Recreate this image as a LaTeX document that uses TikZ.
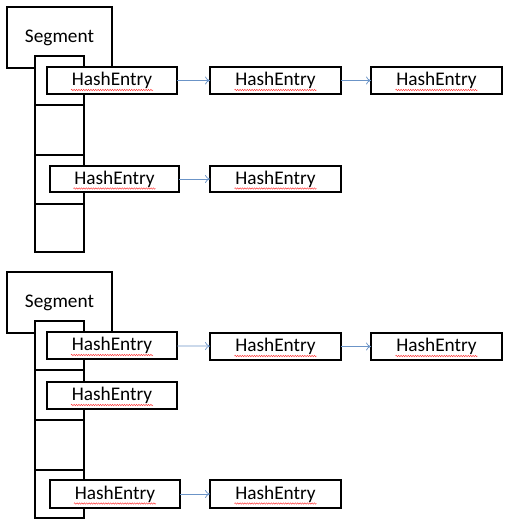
\documentclass[tikz,border=0pt]{standalone}
\usepackage{fontspec}
\setmainfont{Carlito}
\usetikzlibrary{decorations.pathmorphing,arrows.meta}
\definecolor{linkblue}{rgb}{0.42,0.58,0.78}
\tikzset{
  box/.style={draw=black,fill=white,line width=2.1pt,inner sep=0pt,outer sep=0pt,
    font=\fontsize{19.3}{22}\selectfont},
  seg/.style={box},
  cell/.style={box},
  entry/.style={box},
  link/.style={draw=linkblue,line width=0.7pt,-{To[length=5pt,width=8pt]}},
  squiggle/.style={draw=red!80,line width=0.45pt,decorate,
    decoration={snake,amplitude=0.7pt,segment length=2.4pt}}
}
\newcommand{\rectnode}[6]{% style, name, x1, y1, x2, y2 (text appended later)
  \node[#1,minimum width={#5-#3},minimum height={#6-#4}] (#2) at ({(#3+#5)/2},{(#4+#6)/2})}
\begin{document}
\begin{tikzpicture}[x=1pt,y=-1pt]
\useasboundingbox (0,0) rectangle (522,527);
% ---------- top diagram ----------
\rectnode{seg}{segA}{7}{7}{112}{68} {Segment};
\rectnode{cell}{a1}{35}{56}{84}{105} {};
\rectnode{cell}{a2}{35}{105}{84}{155} {};
\rectnode{cell}{a3}{35}{155}{84}{204} {};
\rectnode{cell}{a4}{35}{204}{84}{252} {};
\rectnode{entry}{a11}{47}{67}{177}{94} {HashEntry};
\rectnode{entry}{a12}{210}{67}{341}{94} {HashEntry};
\rectnode{entry}{a13}{371}{67}{502}{94} {HashEntry};
\rectnode{entry}{a31}{50}{166}{179}{192} {HashEntry};
\rectnode{entry}{a32}{210}{166}{341}{192} {HashEntry};
\draw[link] (a11) -- (a12);
\draw[link] (a12) -- (a13);
\draw[link] (a31) -- (a32);
% ---------- bottom diagram ----------
\rectnode{seg}{segB}{7}{272}{112}{333} {Segment};
\rectnode{cell}{b1}{35}{321}{84}{370} {};
\rectnode{cell}{b2}{35}{370}{84}{420} {};
\rectnode{cell}{b3}{35}{420}{84}{470} {};
\rectnode{cell}{b4}{35}{470}{84}{518} {};
\rectnode{entry}{b11}{47}{332}{177}{359} {HashEntry};
\rectnode{entry}{b12}{210}{333}{341}{360} {HashEntry};
\rectnode{entry}{b13}{371}{333}{502}{360} {HashEntry};
\rectnode{entry}{b21}{47}{382}{177}{409} {HashEntry};
\rectnode{entry}{b41}{50}{480}{180}{508} {HashEntry};
\rectnode{entry}{b42}{210}{480}{341}{508} {HashEntry};
\draw[link] (b11) -- (b12);
\draw[link] (b12) -- (b13);
\draw[link] (b41) -- (b42);
% spell-check underlines
\foreach \n in {a11,a12,a13,a31,a32,b11,b12,b13,b21,b41,b42}
  \draw[squiggle] ([xshift=-41pt,yshift=-9.5pt]\n.center) -- ([xshift=41pt,yshift=-9.5pt]\n.center);
\end{tikzpicture}
\end{document}
